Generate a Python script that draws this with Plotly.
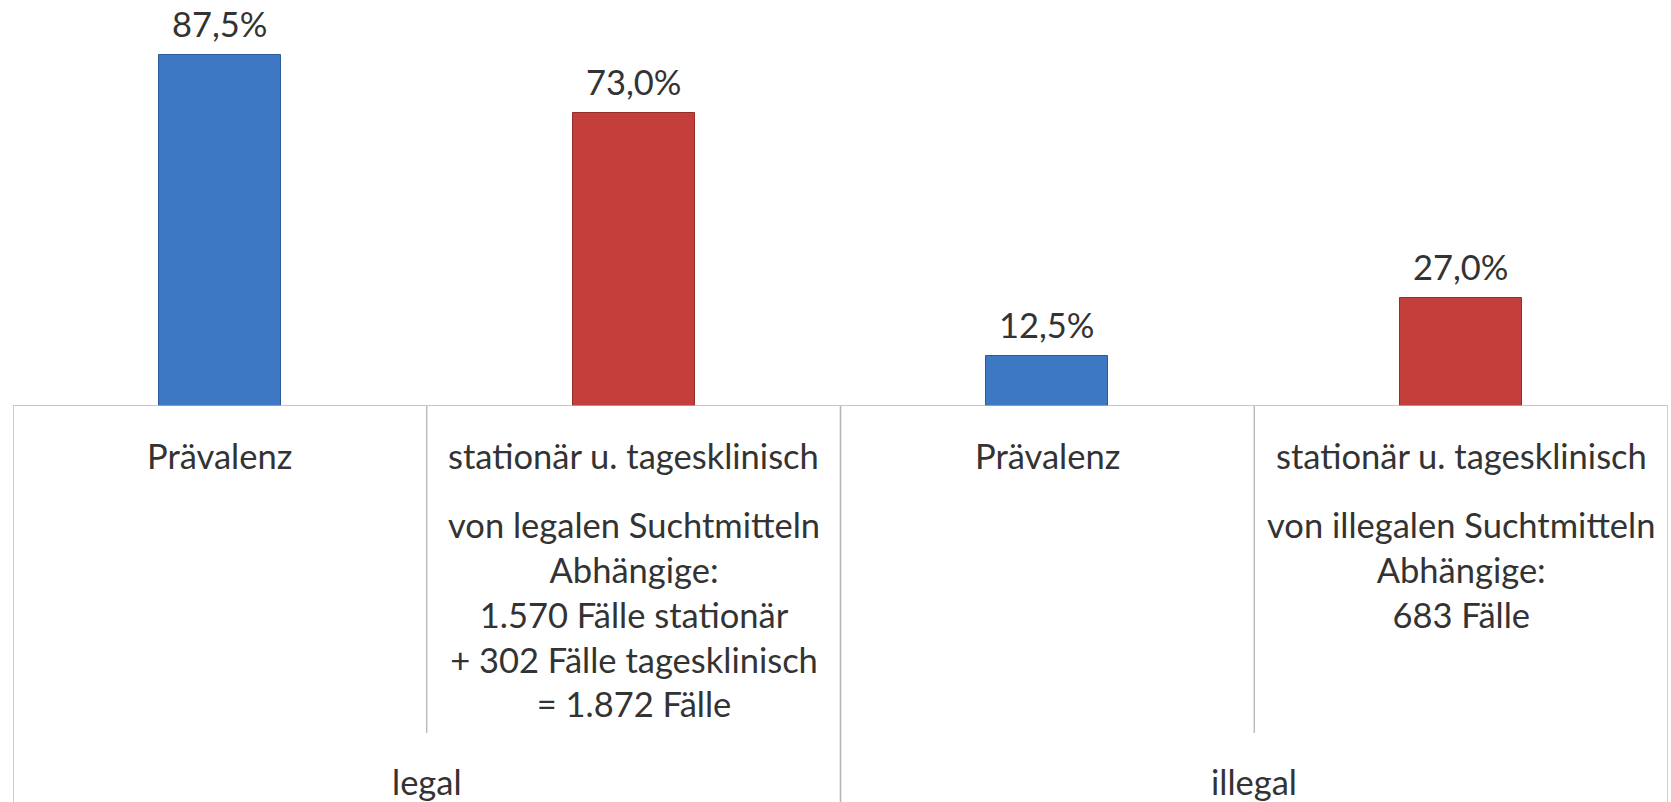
import plotly.graph_objects as go

# ---- data ----
groups = ["legal", "legal", "illegal", "illegal"]
categories = ["Prävalenz", "stationär u. tagesklinisch", "Prävalenz", "stationär u. tagesklinisch"]
details = [
    "",
    "von legalen Suchtmitteln<br>Abhängige:<br>1.570 Fälle stationär<br>+ 302 Fälle tagesklinisch<br>= 1.872 Fälle",
    "",
    "von illegalen Suchtmitteln<br>Abhängige:<br>683 Fälle",
]
values = [87.5, 73.0, 12.5, 27.0]
value_labels = ["87,5%", "73,0%", "12,5%", "27,0%"]
bar_colors = ["#3d78c2", "#c43f3b", "#3d78c2", "#c43f3b"]
bar_edges = ["#2a5a99", "#932e2b", "#2a5a99", "#932e2b"]

FONT = "Lato"
FS = 34.5
TXT = "#333333"
GRID = "#b4b4b4"

W, H = 1671, 802
top_px, axis_px = 5, 406
plot_h = axis_px - top_px


def py(pix):
    """pixel row -> paper y"""
    return (axis_px - pix) / plot_h


xs = list(range(len(categories)))

fig = go.Figure()
fig.add_trace(go.Bar(
    x=xs, y=values, width=0.295,
    marker=dict(color=bar_colors, line=dict(color=bar_edges, width=1)),
    hoverinfo="skip",
))

annotations = []
for i, (v, lab) in enumerate(zip(values, value_labels)):
    annotations.append(dict(x=i, y=v, xref="x", yref="y", text=lab, showarrow=False,
                            yanchor="bottom", yshift=9,
                            font=dict(family=FONT, size=FS, color=TXT)))
for i, c in enumerate(categories):
    annotations.append(dict(x=i, y=py(455), xref="x", yref="paper", text=c, showarrow=False,
                            yanchor="middle", font=dict(family=FONT, size=FS, color=TXT)))
for i, d in enumerate(details):
    if d:
        annotations.append(dict(x=i, y=py(502), xref="x", yref="paper", text=d, showarrow=False,
                                yanchor="top", align="center",
                                font=dict(family=FONT, size=FS, color=TXT)))

# group labels and boundaries
group_names = []
for g in groups:
    if g not in group_names:
        group_names.append(g)
shapes = []
line = dict(color=GRID, width=1.3)
shapes.append(dict(type="line", xref="x", yref="y", x0=-0.5, x1=len(xs) - 0.5, y0=0, y1=0, line=line))
for g in group_names:
    idx = [i for i, gg in enumerate(groups) if gg == g]
    lo, hi = min(idx) - 0.5, max(idx) + 0.5
    annotations.append(dict(x=(lo + hi) / 2, y=py(781), xref="x", yref="paper", text=g,
                            showarrow=False, yanchor="middle",
                            font=dict(family=FONT, size=FS, color=TXT)))
    for xb in (lo, hi):
        shapes.append(dict(type="line", xref="x", yref="paper", x0=xb, x1=xb,
                           y0=0, y1=py(802), line=line))
    for k in range(min(idx), max(idx)):
        shapes.append(dict(type="line", xref="x", yref="paper", x0=k + 0.5, x1=k + 0.5,
                           y0=0, y1=py(733), line=line))

fig.update_layout(
    width=W, height=H,
    margin=dict(l=13, r=3, t=top_px, b=H - axis_px),
    paper_bgcolor="white", plot_bgcolor="white",
    showlegend=False,
    xaxis=dict(range=[-0.5, len(xs) - 0.5], visible=False, fixedrange=True),
    yaxis=dict(range=[0, 100], visible=False, fixedrange=True),
    annotations=annotations, shapes=shapes,
    bargap=0,
)

fig.write_html("out.html", config={"displayModeBar": False},
               post_script="document.body.style.margin='0';document.body.style.overflow='hidden';")
